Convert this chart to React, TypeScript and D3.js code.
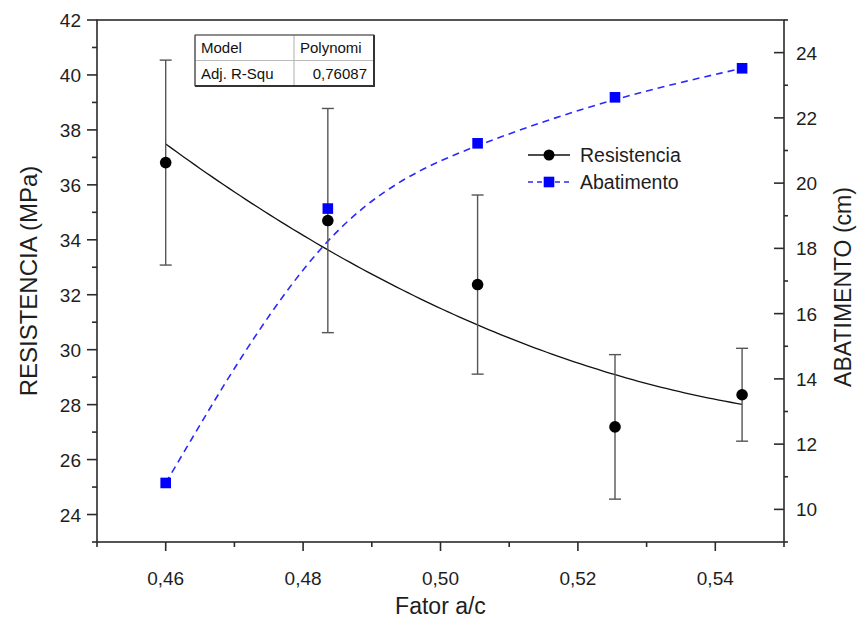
import React from "react";
import * as d3 from "d3";

const fator = [0.46, 0.4836, 0.5054, 0.5254, 0.5439];
const resistencia = [36.81, 34.7, 32.37, 27.19, 28.36];
const erro = [3.73, 4.08, 3.26, 2.63, 1.69];
const abatimento = [10.81, 19.22, 21.22, 22.63, 23.52];

const xTicks = [0.46, 0.48, 0.5, 0.52, 0.54];
const xMinor = [0.45, 0.47, 0.49, 0.51, 0.53, 0.55];
const yLeftTicks = [24, 26, 28, 30, 32, 34, 36, 38, 40, 42];
const yLeftMinor = [23, 25, 27, 29, 31, 33, 35, 37, 39, 41];
const yRightTicks = [10, 12, 14, 16, 18, 20, 22, 24];
const yRightMinor = [9, 11, 13, 15, 17, 19, 21, 23, 25];

const tableRows = [
  ["Model", "Polynomi"],
  ["Adj. R-Squ", "0,76087"],
];
const seriesNames = ["Resistencia", "Abatimento"];

const W = 859;
const H = 621;
const L = 97, R = 784, T = 20, B = 542;
const FONT = "'Liberation Sans', Arial, sans-serif";

// weighted quadratic least squares (weights 1/sigma^2)
function weightedQuadFit(xs: number[], ys: number[], sig: number[]) {
  const S = [[0, 0, 0], [0, 0, 0], [0, 0, 0]];
  const v = [0, 0, 0];
  xs.forEach((x, i) => {
    const w = 1 / (sig[i] * sig[i]);
    const p = [1, x, x * x];
    for (let r = 0; r < 3; r++) {
      v[r] += w * p[r] * ys[i];
      for (let c = 0; c < 3; c++) S[r][c] += w * p[r] * p[c];
    }
  });
  const A = S.map((row, i) => [...row, v[i]]);
  for (let i = 0; i < 3; i++) {
    let m = i;
    for (let k = i + 1; k < 3; k++) if (Math.abs(A[k][i]) > Math.abs(A[m][i])) m = k;
    [A[i], A[m]] = [A[m], A[i]];
    for (let k = i + 1; k < 3; k++) {
      const f = A[k][i] / A[i][i];
      for (let c = i; c < 4; c++) A[k][c] -= f * A[i][c];
    }
  }
  const sol = [0, 0, 0];
  for (let i = 2; i >= 0; i--) {
    let s = A[i][3];
    for (let c = i + 1; c < 3; c++) s -= A[i][c] * sol[c];
    sol[i] = s / A[i][i];
  }
  return (x: number) => sol[0] + sol[1] * x + sol[2] * x * x;
}

export default function App() {
  const x = d3.scaleLinear().domain([0.45, 0.55]).range([L, R]);
  const yL = d3.scaleLinear().domain([23, 42]).range([B, T]);
  const yR = d3.scaleLinear().domain([9, 25]).range([B, T]);

  const fit = weightedQuadFit(fator, resistencia, erro);
  const x0 = fator[0], x1 = fator[fator.length - 1];
  const fitPts = d3.range(0, 101).map((i) => {
    const xv = x0 + ((x1 - x0) * i) / 100;
    return [x(xv), yL(fit(xv))] as [number, number];
  });
  const fitPath = d3.line()(fitPts) || "";

  const abPath =
    d3.line<number>()
      .x((_, i) => x(fator[i]))
      .y((d) => yR(d))
      .curve(d3.curveBasis)(abatimento) || "";

  const fmt = (v: number) => v.toFixed(2).replace(".", ",");
  const blue = "#2a2aff";
  const axisColor = "#2b2b2b";
  const txt = "#1e1e1e";
  const cap = 6;

  return (
    <svg width={W} height={H} style={{ position: "absolute", left: 0, top: 0, background: "#fff" }} fontFamily={FONT}>
      <rect x={0} y={0} width={W} height={H} fill="#fff" />
      <path d={fitPath} fill="none" stroke="#111" strokeWidth={1.3} />
      <path d={abPath} fill="none" stroke={blue} strokeWidth={1.6} strokeDasharray="7,5" />
      {fator.map((f, i) => (
        <g key={"e" + i} stroke="#555" strokeWidth={1.4}>
          <line x1={x(f)} x2={x(f)} y1={yL(resistencia[i] + erro[i])} y2={yL(resistencia[i] - erro[i])} />
          <line x1={x(f) - cap} x2={x(f) + cap} y1={yL(resistencia[i] + erro[i])} y2={yL(resistencia[i] + erro[i])} />
          <line x1={x(f) - cap} x2={x(f) + cap} y1={yL(resistencia[i] - erro[i])} y2={yL(resistencia[i] - erro[i])} />
        </g>
      ))}
      {fator.map((f, i) => (
        <circle key={"c" + i} cx={x(f)} cy={yL(resistencia[i])} r={5.8} fill="#000" />
      ))}
      {fator.map((f, i) => (
        <rect key={"s" + i} x={x(f) - 5.3} y={yR(abatimento[i]) - 5.3} width={10.6} height={10.6} fill="#0000ff" />
      ))}

      <rect x={L} y={T} width={R - L} height={B - T} fill="none" stroke={axisColor} strokeWidth={1.6} />

      {xTicks.map((t) => (
        <g key={"xt" + t}>
          <line x1={x(t)} x2={x(t)} y1={B} y2={B + 9} stroke={axisColor} strokeWidth={1.6} />
          <text x={x(t)} y={585} fontSize={19} textAnchor="middle" fill={txt}>{fmt(t)}</text>
        </g>
      ))}
      {xMinor.map((t) => (
        <line key={"xm" + t} x1={x(t)} x2={x(t)} y1={B} y2={B + 5} stroke={axisColor} strokeWidth={1.6} />
      ))}
      <text x={(L + R) / 2} y={614} fontSize={23} textAnchor="middle" fill={txt}>Fator a/c</text>

      {yLeftTicks.map((t) => (
        <g key={"yl" + t}>
          <line x1={L - 10} x2={L} y1={yL(t)} y2={yL(t)} stroke={axisColor} strokeWidth={1.6} />
          <text x={81} y={yL(t) + 7} fontSize={19} textAnchor="end" fill={txt}>{t}</text>
        </g>
      ))}
      {yLeftMinor.map((t) => (
        <line key={"ylm" + t} x1={L - 5} x2={L} y1={yL(t)} y2={yL(t)} stroke={axisColor} strokeWidth={1.6} />
      ))}
      <text transform={`translate(37,${(T + B) / 2}) rotate(-90)`} fontSize={24} textAnchor="middle" fill={txt}>RESISTENCIA (MPa)</text>

      {yRightTicks.map((t) => (
        <g key={"yr" + t}>
          <line x1={R - 10} x2={R} y1={yR(t)} y2={yR(t)} stroke={axisColor} strokeWidth={1.6} />
          <text x={796} y={yR(t) + 7} fontSize={19} textAnchor="start" fill={txt}>{t}</text>
        </g>
      ))}
      {yRightMinor.map((t) => (
        <line key={"yrm" + t} x1={R} x2={R + 4} y1={yR(t)} y2={yR(t)} stroke={axisColor} strokeWidth={1.6} />
      ))}
      <text transform={`translate(851,${(T + B) / 2 + 6}) rotate(-90)`} fontSize={23} textAnchor="middle" fill={txt}>ABATIMENTO (cm)</text>

      <g>
        <rect x={195} y={35} width={179} height={51} fill="#fff" stroke="#bbb" strokeWidth={1.2} />
        <line x1={195} x2={374} y1={60.5} y2={60.5} stroke="#bbb" strokeWidth={1.2} />
        <line x1={294} x2={294} y1={35} y2={86} stroke="#bbb" strokeWidth={1.2} />
        <line x1={195} x2={374} y1={35} y2={35} stroke="#444" strokeWidth={1.2} />
        <line x1={195} x2={195} y1={35} y2={86} stroke="#444" strokeWidth={1.2} />
        <line x1={374} x2={374} y1={35} y2={87} stroke="#333" strokeWidth={2} />
        <line x1={195} x2={375} y1={86} y2={86} stroke="#333" strokeWidth={2} />
        <text x={201} y={53} fontSize={15} fill="#111">{tableRows[0][0]}</text>
        <text x={300} y={53} fontSize={15} fill="#111">{tableRows[0][1]}</text>
        <text x={201} y={79} fontSize={15} fill="#111">{tableRows[1][0]}</text>
        <text x={367} y={79} fontSize={15} fill="#111" textAnchor="end">{tableRows[1][1]}</text>
      </g>

      <g>
        <line x1={528} x2={570} y1={155} y2={155} stroke="#111" strokeWidth={1.3} />
        <circle cx={549} cy={155} r={5.5} fill="#000" />
        <text x={580} y={162} fontSize={19.5} fill={txt}>{seriesNames[0]}</text>
        <line x1={528} x2={570} y1={182} y2={182} stroke={blue} strokeWidth={1.6} strokeDasharray="5,4" />
        <rect x={543.7} y={176.7} width={10.6} height={10.6} fill="#0000ff" />
        <text x={580} y={189} fontSize={19.5} fill={txt}>{seriesNames[1]}</text>
      </g>
    </svg>
  );
}
